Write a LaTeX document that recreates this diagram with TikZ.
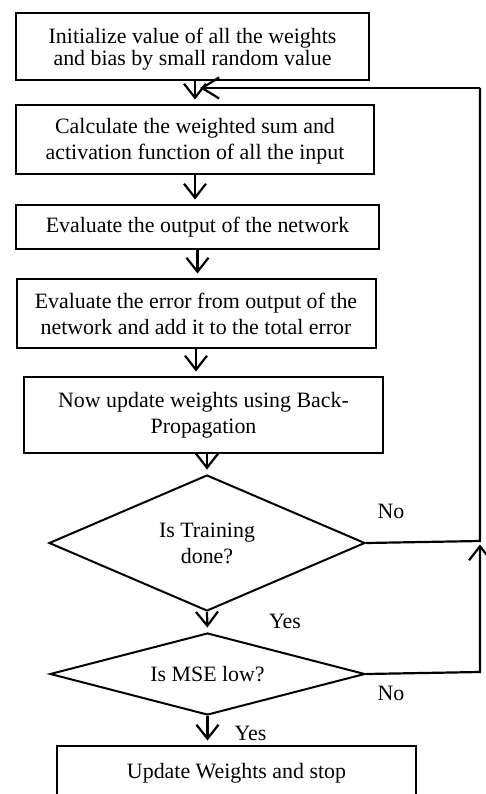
\documentclass[tikz,border=0pt]{standalone}
\usepackage{fontspec}
\setmainfont{Liberation Serif}
\usetikzlibrary{shapes.geometric,arrows.meta}
\begin{document}
\begin{tikzpicture}[x=1pt,y=-1pt,
  txt/.style={font=\fontsize{21.9}{26}\selectfont},
  box/.style={txt,draw,line width=2pt,align=center,inner sep=0pt},
  dec/.style={txt,draw,diamond,line width=2pt,align=center,inner sep=0pt},
  lbl/.style={txt,anchor=base,inner sep=0pt},
  conn/.style={line width=2.2pt},
  arr/.style={conn,-{Straight Barb[length=14pt,width=22pt]},shorten >=4.5pt}]
\useasboundingbox (0,0) rectangle (486,794);
\clip (0,0) rectangle (486,794);

\node[box,font=\fontsize{21.9}{22}\selectfont,minimum width=353,minimum height=67] (b1) at (192.5,46.5)
  {\rule{0pt}{21pt}Initialize value of all the weights\\and bias by small random value};
\node[box,minimum width=358,minimum height=69] (b2) at (195,139.5)
  {\rule{0pt}{18pt}Calculate the weighted sum and\\activation function of all the input};
\node[box,minimum width=363,minimum height=44] (b3) at (197.5,227)
  {Evaluate the output of the network};
\node[box,minimum width=359,minimum height=69] (b4) at (196,313.5)
  {Evaluate the error from output of the\\network and add it to the total error};
\node[box,minimum width=359,minimum height=76] (b5) at (203.5,415)
  {Now update weights using Back-\\Propagation};
\node[dec,aspect=2.32,minimum width=316,minimum height=136] (d1) at (207,543)
  {Is Training\\done?};
\node[dec,aspect=3.84,minimum width=315,minimum height=82] (d2) at (207.5,674)
  {Is MSE low?};
\node[box,minimum width=359,minimum height=54] (b6) at (236.5,773)
  {Update Weights and stop};

\draw[arr] (b2.north |- b1.south) -- (b2.north);
\draw[arr] (b2.south) -- (b2.south |- b3.north);
\draw[arr] (b3.south) -- (b3.south |- b4.north);
\draw[arr] (b4.south) -- (b4.south |- b5.north);
\draw[arr] (d1.north |- b5.south) -- (d1.north);
\draw[arr] (d1.south) -- (d2.north);
\draw[arr] (d2.south) -- (d2.south |- b6.north);

\coordinate (J) at (480,541);
\coordinate (T) at (480,88);
\coordinate (K) at (480,672);
\draw[conn] (d1.east) -- (J) -- (T);
\draw[conn,-{Straight Barb[length=17pt,width=21pt]},shorten >=5pt] (T) -- (b2.north |- T);
\draw[arr,shorten >=3.5pt] (d2.east) -- (K) -- (J);

\node[lbl] (no1) at (391,518) {No};
\node[lbl] (yes1) at (285,628) {Yes};
\node[lbl] (no2) at (391,700) {No};
\node[lbl] (yes2) at (250.5,740) {Yes};
\end{tikzpicture}
\end{document}
